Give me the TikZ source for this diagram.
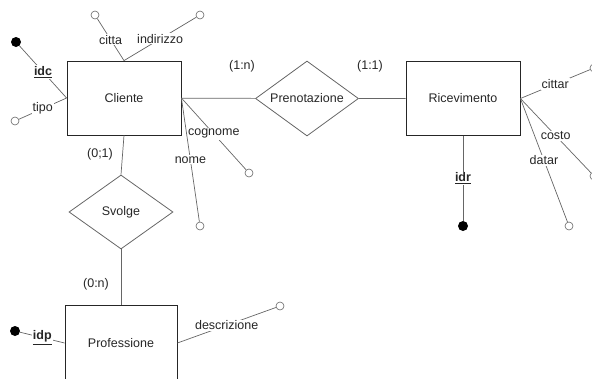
\documentclass[tikz,border=0pt]{standalone}
\usepackage{fontspec}
\setmainfont{Liberation Sans}
\usetikzlibrary{shapes.geometric}
\begin{document}
\begin{tikzpicture}[x=1pt,y=-1pt,font=\fontsize{12.5}{15}\selectfont,text=black!85,
  entita/.style={draw=black!85,line width=.8pt,minimum width=114pt,minimum height=74pt,inner sep=0},
  relaz/.style={diamond,draw=black!60,line width=.8pt,minimum width=103pt,minimum height=75pt,inner sep=0,aspect=1.4},
  attr/.style={circle,draw=black!60,line width=.6pt,minimum size=8pt,inner sep=0},
  chiave/.style={circle,fill=black,minimum size=10pt,inner sep=0},
  lato/.style={draw=black!60,line width=.7pt},
  etic/.style={fill=white,inner sep=1pt}]
\useasboundingbox (0,0) rectangle (592,378);

\node[entita] (cliente) at (124,98) {Cliente};
\node[entita] (ricevimento) at (463,98.5) {Ricevimento};
\node[entita,minimum width=112pt,minimum height=76pt] (professione) at (121,343) {Professione};
\node[relaz] (prenotazione) at (307,98.5) {Prenotazione};
\node[relaz,minimum width=104pt,minimum height=74pt] (svolge) at (121,212) {Svolge};

\draw[lato] (cliente) -- (prenotazione) -- (ricevimento);
\draw[lato] (cliente.south) -- (svolge.north);
\draw[lato] (svolge.south) -- (professione.north);

\foreach \ent/\nome/\x/\y in {cliente.west/tipo/15/121, cliente.north/citta/95/15,
  cliente.north/indirizzo/200/15, cliente.east/cognome/249/173, cliente.east/nome/200/226,
  ricevimento.east/cittar/594/68, ricevimento.east/costo/594/176, ricevimento.east/datar/569/226,
  professione.east/descrizione/280/306}
{\node[attr] (\nome) at (\x,\y) {};
 \draw[lato] (\ent) -- node[etic]{\nome} (\nome);}

\foreach \ent/\nome/\x/\y in {cliente.west/idc/16/42, ricevimento.south/idr/463/226, professione.west/idp/15/331}
{\node[chiave] (\nome) at (\x,\y) {};
 \draw[lato] (\ent) -- node[etic]{\underline{\textbf{\nome}}} (\nome);}

\node (card1) at (242,66) {(1:n)};
\node (card2) at (370,66) {(1:1)};
\node (card3) at (100,154) {(0;1)};
\node (card4) at (96,284) {(0:n)};
\end{tikzpicture}
\end{document}
